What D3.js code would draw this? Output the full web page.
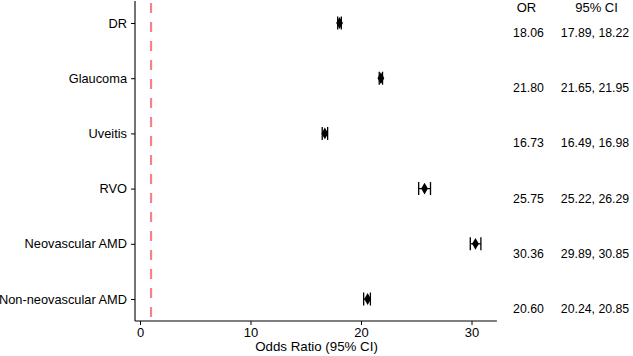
<!DOCTYPE html>
<html><head><meta charset="utf-8">
<script src="https://cdn.jsdelivr.net/npm/d3@7"></script>
<style>body{margin:0;background:#fff}svg{display:block}text{font-family:"Liberation Sans",Arial,sans-serif}</style>
</head><body><svg id="c" width="633" height="356"></svg>
<script>
const categories = ["DR","Glaucoma","Uveitis","RVO","Neovascular AMD","Non-neovascular AMD"];
const orValues = [18.06,21.80,16.73,25.75,30.36,20.60];
const ciLow = [17.89,21.65,16.49,25.22,29.89,20.24];
const ciHigh = [18.22,21.95,16.98,26.29,30.85,20.85];
const xTicks = [0,10,20,30];
const refLine = 1;

const svg = d3.select("#c");
const x = d3.scaleLinear().domain([0,30]).range([140,471.5]);
const y = d3.scalePoint().domain(categories).range([23,299]);
const left = 135, bottom = 321, right = x(32.3);

// axes
const xa = svg.append("g").attr("transform",`translate(0,${bottom})`)
  .call(d3.axisBottom(x).tickValues(xTicks).tickSize(4).tickPadding(3));
xa.select(".domain").remove();
xa.selectAll("line").attr("stroke","#000");
xa.selectAll("text").attr("font-size",13).attr("fill","#000");
svg.append("line").attr("x1",left).attr("x2",right).attr("y1",bottom).attr("y2",bottom).attr("stroke","#000").attr("stroke-width",1.1);

const ya = svg.append("g").attr("transform",`translate(${left},0)`)
  .call(d3.axisLeft(y).tickSize(4).tickPadding(4));
ya.select(".domain").remove();
ya.selectAll("line").attr("stroke","#000");
ya.selectAll("text").attr("font-size",12.8).attr("fill","#000");
svg.append("line").attr("x1",left).attr("x2",left).attr("y1",1).attr("y2",bottom).attr("stroke","#000").attr("stroke-width",1.1);

svg.append("text").attr("x",316.5).attr("y",351).attr("text-anchor","middle").attr("font-size",13.3).text("Odds Ratio (95% CI)");

// reference line
svg.append("line").attr("x1",x(refLine)).attr("x2",x(refLine)).attr("y1",3).attr("y2",bottom)
  .attr("stroke","#f2838b").attr("stroke-width",2.2).attr("stroke-dasharray","10,9");

// error bars
const rows = categories.map((c,i)=>({c,or:orValues[i],lo:ciLow[i],hi:ciHigh[i]}));
const g = svg.append("g");
rows.forEach(d=>{
  const yy = y(d.c);
  g.append("line").attr("x1",x(d.lo)).attr("x2",x(d.hi)).attr("y1",yy).attr("y2",yy).attr("stroke","#000").attr("stroke-width",1.2);
  [d.lo,d.hi].forEach(v=>g.append("line").attr("x1",x(v)).attr("x2",x(v)).attr("y1",yy-6.5).attr("y2",yy+6.5).attr("stroke","#000").attr("stroke-width",1.3));
  g.append("path").attr("d",d3.symbol(d3.symbolDiamond,40)()).attr("transform",`translate(${x(d.or)},${yy})`).attr("fill","#000");
});

// table
svg.append("text").attr("x",526.5).attr("y",12).attr("text-anchor","middle").attr("font-size",13).text("OR");
svg.append("text").attr("x",596.5).attr("y",12).attr("text-anchor","middle").attr("font-size",13).text("95% CI");
rows.forEach(d=>{
  const yy = y(d.c)+14;
  svg.append("text").attr("x",528.5).attr("y",yy).attr("text-anchor","middle").attr("font-size",12.3).text(d.or.toFixed(2));
  svg.append("text").attr("x",595).attr("y",yy).attr("text-anchor","middle").attr("font-size",12.3).text(d.lo.toFixed(2)+", "+d.hi.toFixed(2));
});
</script></body></html>
